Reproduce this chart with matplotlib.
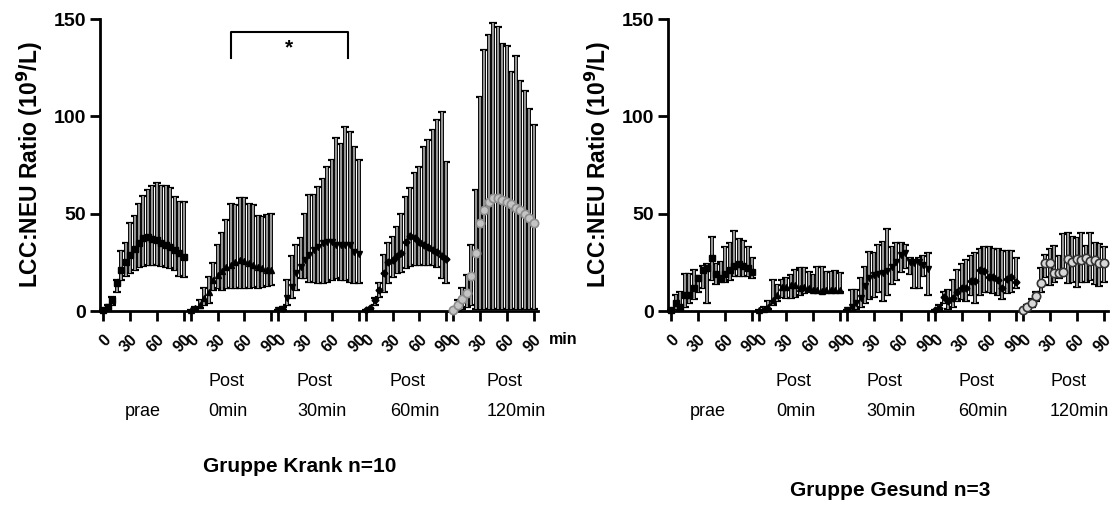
import matplotlib.pyplot as plt

plt.rcParams['font.family'] = ['Liberation Sans', 'DejaVu Sans']

# sampling times inside each phase (min)
times = [0, 5, 10, 15, 20, 25, 30, 35, 40, 45, 50, 55, 60, 65, 70, 75, 80, 85, 90]
tick_minutes = [0, 30, 60, 90]
phase_top = ['', 'Post', 'Post', 'Post', 'Post']
phase_bottom = ['prae', '0min', '30min', '60min', '120min']

# Gruppe Krank: mean, upper and lower error limit per phase
krank_mean = [
    [0.5, 2.2, 5.6, 14.2, 21, 25.3, 28.8, 32, 34.8, 37.3, 38.2, 36.8, 36.5, 35, 34, 32.7, 31.3, 29.6, 27.6],
    [0.5, 1.4, 3, 6.5, 10, 16, 18.5, 20.7, 22.4, 23.6, 25.3, 26.2, 25.7, 24.8, 23.6, 22.4, 22, 21, 21],
    [0.5, 1, 6.5, 12.5, 19.3, 22.8, 26.2, 28.8, 31.3, 33, 34.8, 35.6, 35.6, 34, 34, 34, 34, 30.5, 29.3],
    [0.5, 1.4, 5.6, 10.8, 19.3, 25.3, 26.2, 28, 29.6, 35.6, 38.5, 37.3, 35.6, 34, 33, 31.3, 30.5, 28, 26.5],
    [0.5, 3, 6, 9.5, 18, 30, 45, 52, 56, 58, 58, 57, 56, 55, 53, 52, 50, 48, 45],
]
krank_upper = [
    [0.5, 3, 7.4, 16, 31, 35, 45, 49, 55, 59, 62, 64, 65.5, 64, 64, 63, 58.7, 56, 55.8],
    [0.5, 2, 5.6, 11.6, 17.6, 24.5, 34, 40, 46.7, 55, 54.5, 58, 58, 55, 54.5, 49, 48.5, 49.3, 50],
    [0.5, 2, 16, 28, 34, 37.3, 50, 59.6, 59.6, 63.9, 68, 74, 77.6, 88.7, 86, 94.7, 92, 84.4, 77.6],
    [0.5, 1.4, 6.5, 14.2, 28.8, 34.8, 38.2, 43.3, 50, 58.7, 63, 70.7, 74, 84.4, 87.8, 93, 98, 102, 76.7],
    [0.5, 5.6, 11.6, 18.5, 34, 62, 110, 134, 142, 148, 146, 137, 136, 123, 131, 118, 113, 104, 95.5],
]
krank_lower = [
    [0, 1, 3, 10, 16, 18, 19.3, 21, 22.8, 23, 23.6, 23.6, 23.6, 23.3, 22.8, 22, 21, 18, 17.6],
    [0, 1, 1.5, 3, 4, 10.8, 11.6, 10.8, 12, 11.6, 11.6, 11.6, 12, 12, 12.5, 12, 12.5, 12.8, 13.4],
    [0, 0.5, 3, 6.5, 10.8, 16.8, 16.8, 15, 15, 14.2, 14.2, 15, 16, 16.8, 16, 16, 15, 14.6, 14.2],
    [0, 0.5, 3, 7.4, 10, 14.2, 17.6, 19.3, 20.2, 22, 23.1, 23.6, 23.6, 23.6, 23.6, 23.6, 22.8, 16.8, 14.2],
    [0, 0.5, 1, 2, 3, 1, 1, 1, 1, 1, 1, 1, 1, 1, 1, 1, 1, 1, 1],
]

# Gruppe Gesund
gesund_mean = [
    [0.5, 4, 2, 8, 8, 12, 17, 21, 22, 27, 19, 17, 19, 21, 23, 24, 23, 22, 20],
    [0.5, 1, 2, 5.6, 8.2, 12.5, 12.5, 13.4, 13.4, 11.6, 12.5, 11.6, 10.8, 10.8, 10.4, 10.8, 10.8, 11, 11],
    [0.5, 2, 4, 6.5, 12.8, 16.8, 18.5, 19, 19.7, 20.7, 22.8, 25.3, 28.8, 29.6, 25.3, 24.8, 25.3, 23.6, 21.4],
    [0.5, 1.4, 7, 5, 6.5, 10, 11.6, 11.6, 15.6, 15.6, 21, 20.7, 17.5, 17.6, 16, 11.6, 16.5, 17.3, 15],
    [0.5, 1.9, 4.3, 7.7, 14.2, 24.5, 24.5, 19.7, 19.7, 20.2, 26.5, 25.3, 26.5, 26.2, 27, 25.9, 26.2, 24.8, 24.5],
]
gesund_upper = [
    [0.5, 8, 10, 19, 19, 21, 18, 23, 24, 38, 24, 25, 33, 35, 41, 37, 36, 33, 27],
    [0.5, 2, 5, 16, 13.4, 16, 16.8, 18.5, 21, 22, 22, 20, 18.5, 22.8, 22.8, 20, 20, 20.5, 19.5],
    [0.5, 10.8, 11, 17, 22.8, 30.5, 29.6, 34, 35.6, 42, 33, 34.8, 35, 34, 27, 26, 27, 28, 30],
    [0.5, 3, 10, 11, 16, 21, 24, 26, 28, 30, 32, 33, 33, 32, 32, 31, 31, 31, 27],
    [0.5, 3, 6, 10, 22.3, 28.8, 32, 33.4, 28.3, 39.6, 40, 38.2, 37.3, 40.2, 33.4, 40.2, 34.8, 34.4, 33],
]
gesund_lower = [
    [0, 1, 0.5, 2, 4, 6, 10, 12, 4, 16, 14, 15, 15, 16, 18, 18, 18, 18, 17],
    [0, 0.5, 1, 3, 5, 7.4, 6.5, 6.5, 7.4, 8.2, 9, 10, 10, 10, 9.5, 10, 10, 10, 10],
    [0, 0.5, 1, 2, 4, 6, 7, 10, 5, 8, 14, 16, 20, 22, 19, 12, 12, 18, 8],
    [0, 0.5, 4, 1, 2, 5, 6, 5, 8, 4, 8, 10, 10, 9, 8, 6, 9, 10, 12],
    [0, 0.5, 2, 5, 10, 17.6, 13.4, 15, 16.8, 19.3, 14.2, 15, 12.5, 15, 15, 16, 14, 13, 15],
]

W, H = 1117, 507
OFFSET = 98  # minutes between the phase blocks on the x axis

markers = ['s', '^', 'v', 'D', 'o']
msizes = [5, 4.5, 4.5, 3.5, 6]


def draw_panel(ax, means, uppers, lowers, last_face, last_edge):
    for k in range(5):
        xs = [t + k * OFFSET for t in times]
        m, hi, lo = means[k], uppers[k], lowers[k]
        yerr = [[a - b for a, b in zip(m, lo)], [b - a for a, b in zip(m, hi)]]
        ax.errorbar(xs, m, yerr=yerr, fmt='none', ecolor='black', elinewidth=2.8,
                    capsize=3, capthick=1.6, clip_on=False, zorder=2)
        ax.vlines(xs, lo, hi, color='#b4b4b4', lw=1.2, clip_on=False, zorder=3)
        if k == 4:
            ax.plot(xs, m, ls='none', marker='o', ms=msizes[k], mfc=last_face,
                    mec=last_edge, mew=1.2, clip_on=False, zorder=4)
        else:
            ax.plot(xs, m, ls='none', marker=markers[k], ms=msizes[k], color='black',
                    clip_on=False, zorder=4)

    ticks, labels = [], []
    for k in range(5):
        for t in tick_minutes:
            ticks.append(t + k * OFFSET)
            labels.append(str(t))
    ax.set_xticks(ticks)
    ax.set_xticklabels(labels, rotation=45, ha='right', va='top',
                       rotation_mode='anchor', fontsize=11.5, fontweight='bold')
    ax.set_yticks([0, 50, 100, 150])
    ax.set_yticklabels(['0', '50', '100', '150'], fontsize=14, fontweight='bold')
    ax.set_xlim(-3.7, 487)
    ax.set_ylim(0, 150)
    for s in ['top', 'right']:
        ax.spines[s].set_visible(False)
    for s in ['left', 'bottom']:
        ax.spines[s].set_linewidth(2)
    ax.tick_params(direction='out', length=7, width=2, pad=3)
    ax.tick_params(axis='x', pad=8)
    ax.set_ylabel('LCC:NEU Ratio (10$^{\\mathbf{9}}$/L)', fontsize=16.5, fontweight='bold',
                  labelpad=6)


fig = plt.figure(figsize=(W / 100, H / 100), dpi=100)
ax1 = fig.add_axes([100 / W, (H - 311) / H, 438 / W, 292 / H])
ax2 = fig.add_axes([668 / W, (H - 311) / H, 440 / W, 292 / H])

draw_panel(ax1, krank_mean, krank_upper, krank_lower, '#c4c4c4', '#8c8c8c')
draw_panel(ax2, gesund_mean, gesund_upper, gesund_lower, '#d8d8d8', '#333333')


def ftext(x, y, s, **kw):
    fig.text(x / W, 1 - y / H, s, **kw)


ftext(563, 340, 'min', fontsize=11.5, fontweight='bold', ha='center', va='center')

# phase labels under the x axis
left_pos = [(143, 'center'), (208, 'left'), (297, 'left'), (390, 'left'), (487, 'left')]
right_pos = [(708, 'center'), (776, 'left'), (866, 'left'), (958, 'left'), (1050, 'left')]
for pos in (left_pos, right_pos):
    for (x, ha), top, bottom in zip(pos, phase_top, phase_bottom):
        if top:
            ftext(x, 381, top, fontsize=13, ha=ha, va='center')
        ftext(x, 411, bottom, fontsize=13, ha=ha, va='center')

ftext(300, 467, 'Gruppe Krank n=10', fontsize=15, fontweight='bold', ha='center', va='center')
ftext(890, 491, 'Gruppe Gesund n=3', fontsize=15, fontweight='bold', ha='center', va='center')

# significance bracket
ax1.plot([143, 143, 274, 274], [130, 143.3, 143.3, 130], color='black', lw=1.5, clip_on=False)
ax1.text(208.5, 135, '*', fontsize=15, fontweight='bold', ha='center', va='center')

fig.savefig('out.png', dpi=100)
